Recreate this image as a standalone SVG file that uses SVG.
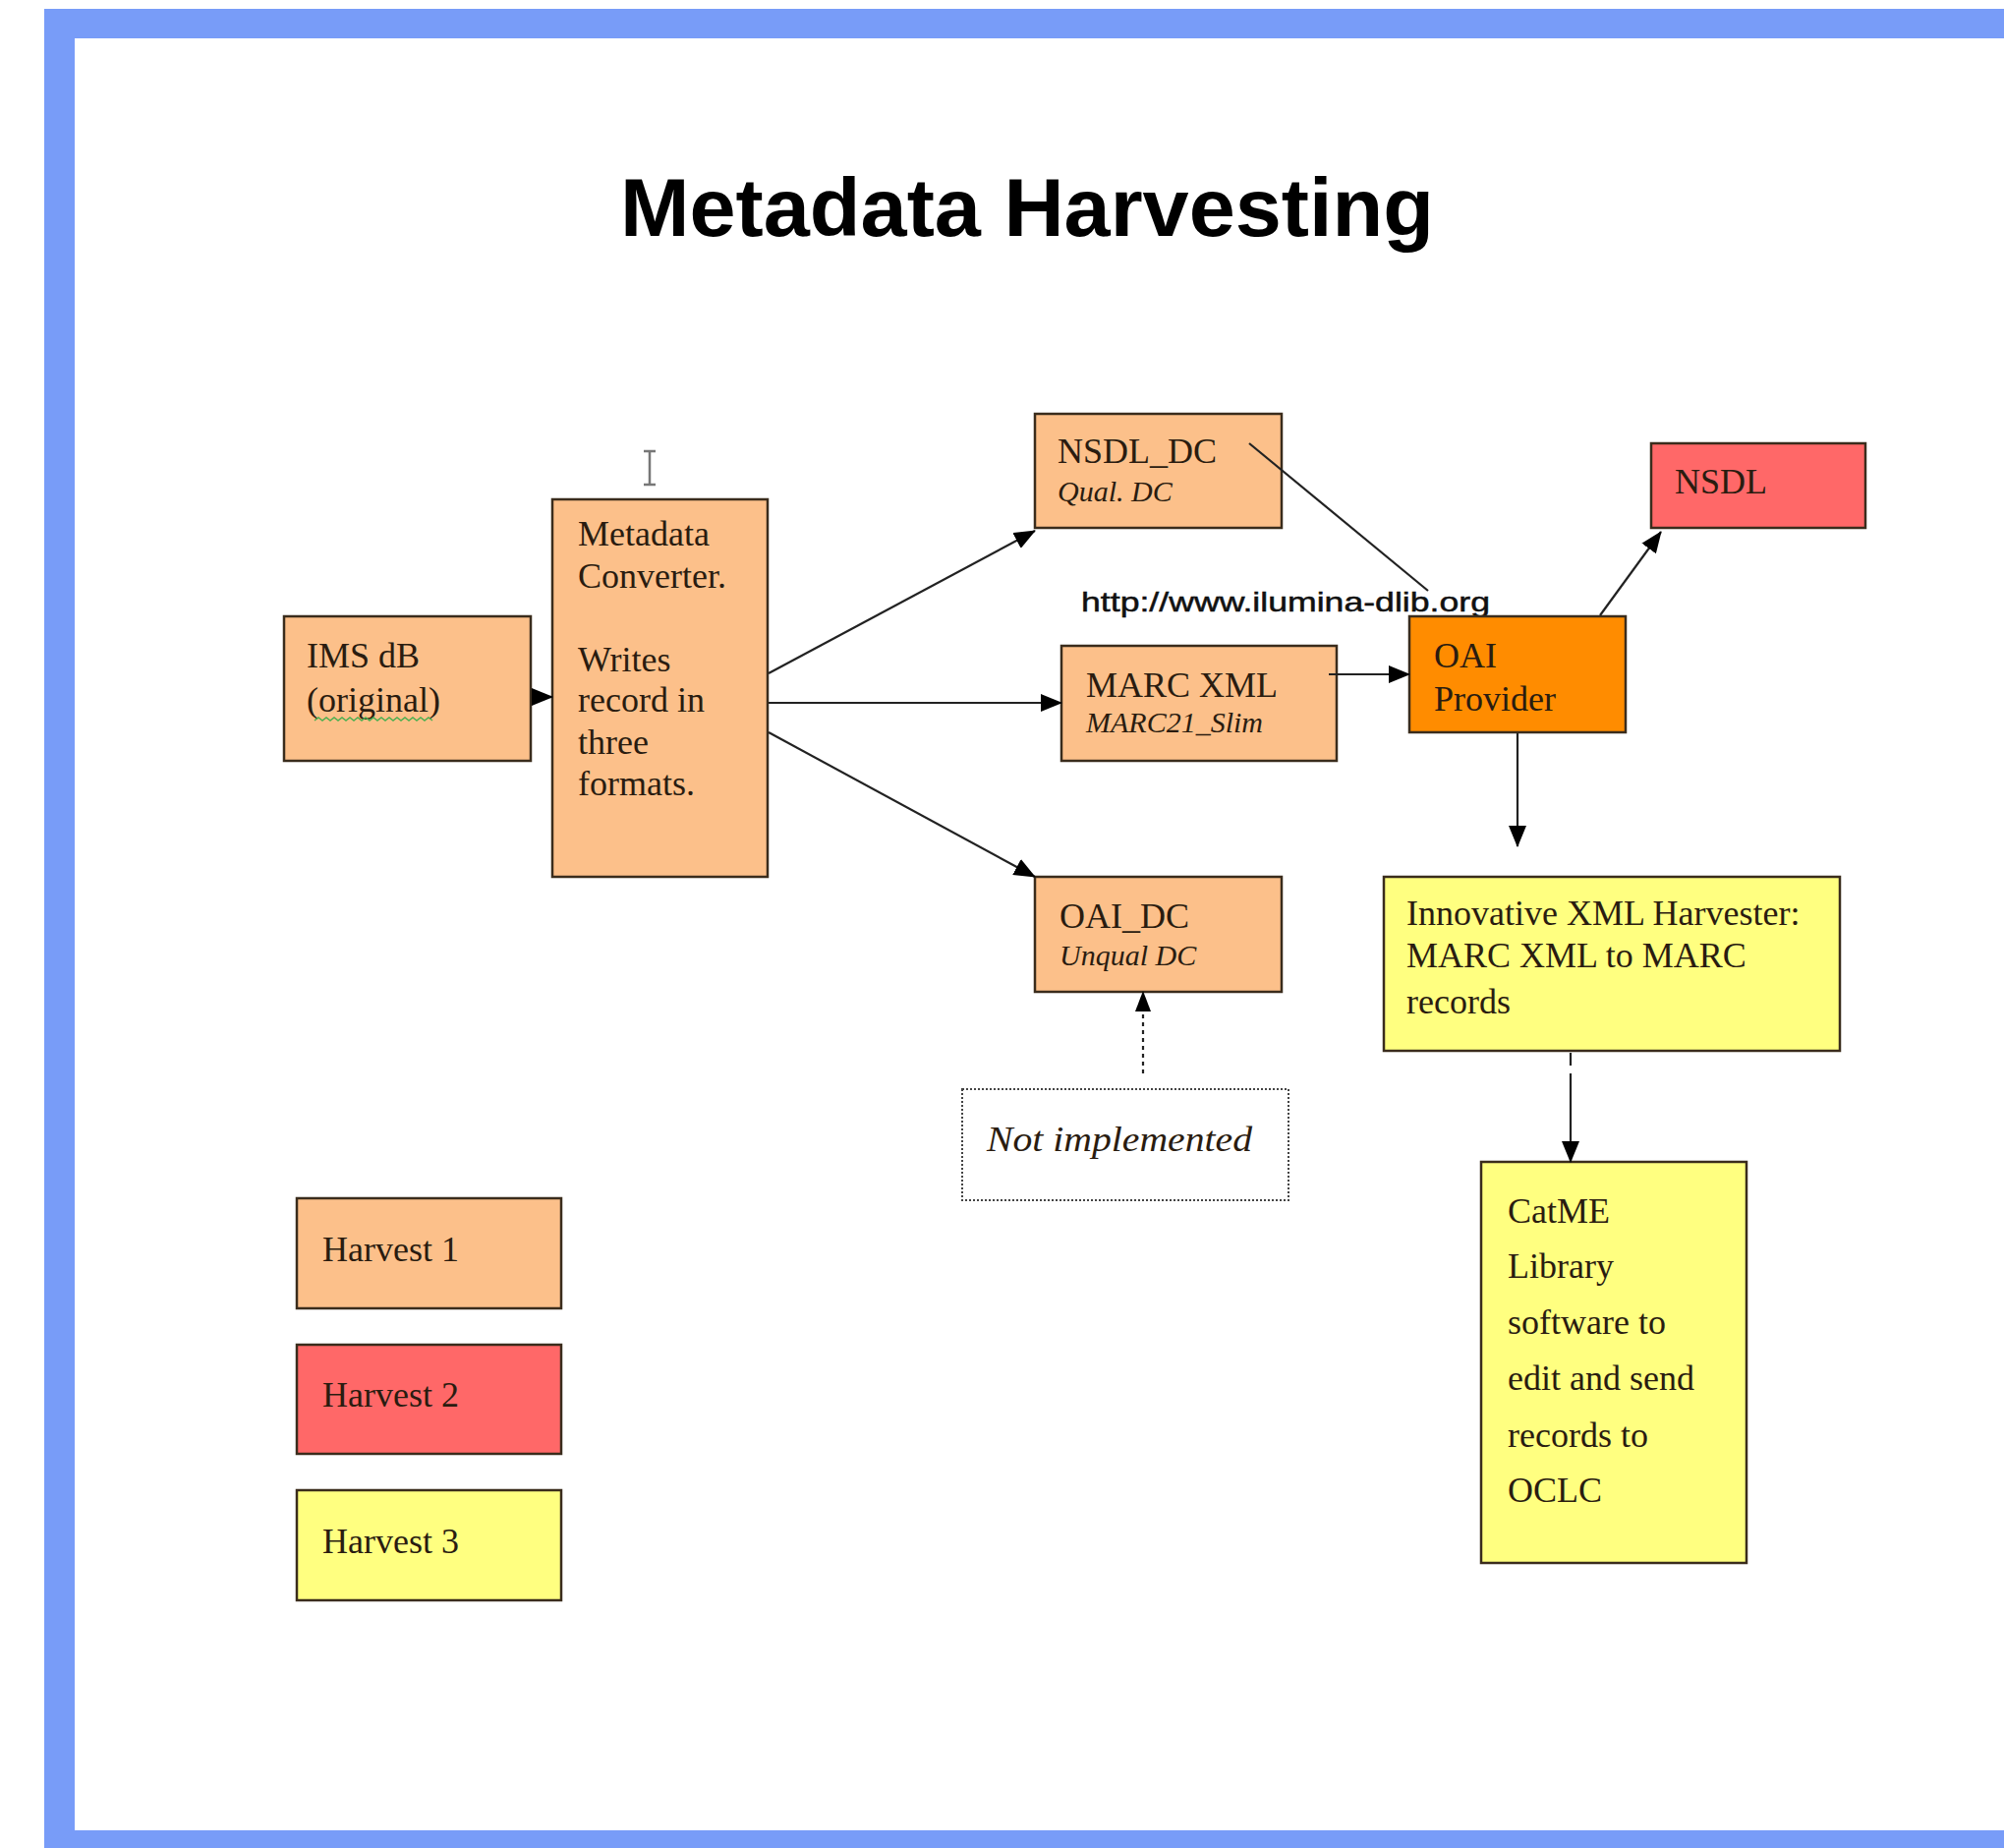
<svg xmlns="http://www.w3.org/2000/svg" width="2039" height="1880" viewBox="0 0 2039 1880">
<defs>
<marker id="ah" markerUnits="userSpaceOnUse" markerWidth="22" markerHeight="18" refX="21" refY="9" orient="auto">
<path d="M0,0 L22,9 L0,18 z" fill="#000"/>
</marker>
<style>
.box{stroke:#3a2c1c;stroke-width:2.5}
.h1{fill:#FCC08A}
.h2{fill:#FF6868}
.h3{fill:#FFFF80}
.op{fill:#FF8C00}
.t{font-family:"Liberation Serif","Times New Roman",serif;font-size:36px;fill:#2a1c10}
.ti{font-family:"Liberation Serif","Times New Roman",serif;font-size:30px;font-style:italic;fill:#2a1c10}
.c{stroke:#222;stroke-width:2.2;fill:none}
</style>
</defs>
<rect x="0" y="0" width="2039" height="1880" fill="#fff"/>
<g id="frame">
<rect x="45" y="9" width="1994" height="30" fill="#789CF8"/>
<rect x="45" y="9" width="31" height="1871" fill="#789CF8"/>
<rect x="45" y="1862" width="1994" height="18" fill="#789CF8"/>
</g>
<text id="title" x="631" y="240" font-family="'Liberation Sans',Arial,sans-serif" font-weight="bold" font-size="84" textLength="828" lengthAdjust="spacingAndGlyphs" fill="#000">Metadata Harvesting</text>
<g id="cursor" stroke="#777" stroke-width="2.5" fill="none">
<line x1="661" y1="458" x2="661" y2="494"/>
<line x1="655" y1="459" x2="667" y2="459"/>
<line x1="655" y1="493" x2="667" y2="493"/>
</g>
<g id="ims">
<rect class="box h1" x="289" y="627" width="251" height="147"/>
<text class="t" x="312" y="679">IMS dB</text>
<text class="t" x="312" y="724">(original)</text>
<path d="M320,733 l4,-3 l4,3 l4,-3 l4,3 l4,-3 l4,3 l4,-3 l4,3 l4,-3 l4,3 l4,-3 l4,3 l4,-3 l4,3 l4,-3 l4,3 l4,-3 l4,3 l4,-3 l4,3 l4,-3 l4,3 l4,-3 l4,3 l4,-3 l4,3 l4,-3 l4,3 l4,-3 l4,3" fill="none" stroke="#4caf50" stroke-width="1.5"/>
</g>
<g id="converter">
<rect class="box h1" x="562" y="508" width="219" height="384"/>
<text class="t" x="588" y="555">Metadata</text>
<text class="t" x="588" y="598">Converter.</text>
<text class="t" x="588" y="683">Writes</text>
<text class="t" x="588" y="724">record in</text>
<text class="t" x="588" y="767">three</text>
<text class="t" x="588" y="809">formats.</text>
</g>
<g id="nsdl_dc">
<rect class="box h1" x="1053" y="421" width="251" height="116"/>
<text class="t" x="1076" y="471">NSDL_DC</text>
<text class="ti" x="1076" y="510">Qual. DC</text>
</g>
<g id="nsdl">
<rect class="box h2" x="1680" y="451" width="218" height="86"/>
<text class="t" x="1704" y="502">NSDL</text>
</g>
<text id="url" x="1100" y="622" font-family="'Liberation Sans',Arial,sans-serif" font-size="28" textLength="416" lengthAdjust="spacingAndGlyphs" fill="#111" stroke="#111" stroke-width="0.5">http://www.ilumina-dlib.org</text>
<g id="marcxml">
<rect class="box h1" x="1080" y="657" width="280" height="117"/>
<text class="t" x="1105" y="709">MARC XML</text>
<text class="ti" x="1105" y="745">MARC21_Slim</text>
</g>
<g id="oai_provider">
<rect class="box op" x="1434" y="627" width="220" height="118"/>
<text class="t" x="1459" y="679">OAI</text>
<text class="t" x="1459" y="723">Provider</text>
</g>
<g id="oai_dc">
<rect class="box h1" x="1053" y="892" width="251" height="117"/>
<text class="t" x="1078" y="944">OAI_DC</text>
<text class="ti" x="1078" y="982">Unqual DC</text>
</g>
<g id="not_implemented">
<rect x="979" y="1108" width="332" height="113" fill="#fff" stroke="#444" stroke-width="2" stroke-dasharray="2,2"/>
<text class="t" x="1004" y="1171" font-style="italic" font-size="43" textLength="270" lengthAdjust="spacingAndGlyphs">Not implemented</text>
</g>
<g id="innovative">
<rect class="box h3" x="1408" y="892" width="464" height="177"/>
<text class="t" x="1431" y="941">Innovative XML Harvester:</text>
<text class="t" x="1431" y="984">MARC XML to MARC</text>
<text class="t" x="1431" y="1031">records</text>
</g>
<g id="catme">
<rect class="box h3" x="1507" y="1182" width="270" height="408"/>
<text class="t" x="1534" y="1244" font-size="41">CatME</text>
<text class="t" x="1534" y="1300" font-size="41">Library</text>
<text class="t" x="1534" y="1357" font-size="41">software to</text>
<text class="t" x="1534" y="1414" font-size="41">edit and send</text>
<text class="t" x="1534" y="1472" font-size="41">records to</text>
<text class="t" x="1534" y="1528" font-size="41">OCLC</text>
</g>
<g id="harvest1">
<rect class="box h1" x="302" y="1219" width="269" height="112"/>
<text class="t" x="328" y="1283" font-size="38">Harvest 1</text>
</g>
<g id="harvest2">
<rect class="box h2" x="302" y="1368" width="269" height="111"/>
<text class="t" x="328" y="1431" font-size="38">Harvest 2</text>
</g>
<g id="harvest3">
<rect class="box h3" x="302" y="1516" width="269" height="112"/>
<text class="t" x="328" y="1580" font-size="38">Harvest 3</text>
</g>
<g id="connectors">
<line class="c" x1="541" y1="709" x2="562" y2="709" marker-end="url(#ah)"/>
<line class="c" x1="782" y1="685" x2="1053" y2="540" marker-end="url(#ah)"/>
<line class="c" x1="782" y1="715" x2="1080" y2="715" marker-end="url(#ah)"/>
<line class="c" x1="782" y1="745" x2="1053" y2="892" marker-end="url(#ah)"/>
<line class="c" x1="1271" y1="451" x2="1453" y2="601" stroke-width="1.6"/>
<line class="c" x1="1352" y1="686" x2="1434" y2="686" marker-end="url(#ah)"/>
<line class="c" x1="1628" y1="626" x2="1690" y2="541" marker-end="url(#ah)"/>
<line class="c" x1="1544" y1="746" x2="1544" y2="861" marker-end="url(#ah)"/>
<line class="c" x1="1598" y1="1071" x2="1598" y2="1084"/>
<line class="c" x1="1598" y1="1092" x2="1598" y2="1182" marker-end="url(#ah)"/>
<line class="c" x1="1163" y1="1092" x2="1163" y2="1027" stroke-dasharray="4,4"/>
<path d="M1155,1029 L1163,1008 L1171,1029 z" fill="#000"/>
</g>
</svg>
